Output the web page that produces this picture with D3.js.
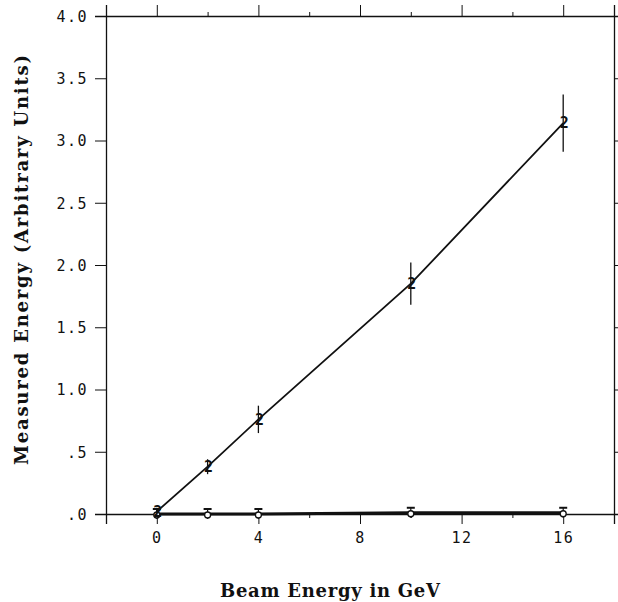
<!DOCTYPE html>
<html>
<head>
<meta charset="utf-8">
<script src="https://cdn.jsdelivr.net/npm/d3@7"></script>
<style>
  html, body { margin: 0; padding: 0; background: #fff; }
  svg { display: block; }
  .tick text { font-family: "DejaVu Sans Mono", monospace; font-size: 15px; letter-spacing: 1.5px; fill: #111; }
  .domain, .tick line { stroke: #111; }
</style>
</head>
<body>
<svg id="chart" width="618" height="602"></svg>
<script>
// Beam energy points (GeV)
const beamEnergy = [0, 2, 4, 10, 16];
// Upper curve: measured energy with error bars
const measuredHigh = [0.02, 0.38, 0.76, 1.85, 3.14];
const measuredHighErr = [0.03, 0.06, 0.11, 0.17, 0.23];
// Lower curve: stays close to zero
const measuredLow = [0.0, 0.0, 0.0, 0.01, 0.01];
const measuredLowErr = [0.04, 0.04, 0.04, 0.04, 0.04];

// Axis ticks
const xMajorTicks = [0, 4, 8, 12, 16];
const xMinorTicks = [-2, 2, 6, 10, 14, 18];
const yTicks = [0, 0.5, 1.0, 1.5, 2.0, 2.5, 3.0, 3.5, 4.0];
const yTickLabels = [".0", ".5", "1.0", "1.5", "2.0", "2.5", "3.0", "3.5", "4.0"];

const svg = d3.select("#chart");
const x = d3.scaleLinear().domain([-2, 18]).range([106, 614]);
const y = d3.scaleLinear().domain([0, 4]).range([514, 16]);

const ink = "#111";
const titleFont = "'DejaVu Serif', 'Liberation Serif', serif";

// Bottom axis: labelled major ticks, short minor ticks
svg.append("g").attr("transform", `translate(0,${y(0)})`)
  .call(d3.axisBottom(x).tickValues(xMajorTicks).tickSize(10).tickPadding(8).tickFormat(d3.format("d")))
  .call(g => g.select(".domain").attr("stroke-width", 1.3));
svg.append("g").attr("transform", `translate(0,${y(0)})`)
  .call(d3.axisBottom(x).tickValues(xMinorTicks).tickSize(4).tickFormat(""))
  .call(g => g.select(".domain").remove());

// Top axis: ticks only, pointing outward
svg.append("g").attr("transform", `translate(0,${y(4)})`)
  .call(d3.axisTop(x).tickValues(xMajorTicks).tickSize(11).tickFormat(""))
  .call(g => g.select(".domain").attr("stroke-width", 1.3));
svg.append("g").attr("transform", `translate(0,${y(4)})`)
  .call(d3.axisTop(x).tickValues(xMinorTicks).tickSize(4).tickFormat(""))
  .call(g => g.select(".domain").remove());

// Left axis with labels
svg.append("g").attr("transform", `translate(${x(-2)},0)`)
  .call(d3.axisLeft(y).tickValues(yTicks).tickSize(11).tickPadding(7)
    .tickFormat((d, i) => yTickLabels[i]))
  .call(g => g.select(".domain").attr("stroke-width", 1.3))
  .call(g => g.selectAll(".tick text").attr("dy", "0.36em"));

// Right axis: short outward ticks
svg.append("g").attr("transform", `translate(${x(18)},0)`)
  .call(d3.axisRight(y).tickValues(yTicks).tickSize(4).tickFormat(""))
  .call(g => g.select(".domain").attr("stroke-width", 1.3));

// Lower curve line (heavy, along zero)
const line = d3.line().x((d, i) => x(beamEnergy[i])).y(d => y(d));
svg.append("path").datum(measuredLow)
  .attr("d", line).attr("fill", "none").attr("stroke", ink).attr("stroke-width", 3);

// Lower curve error bars with top caps and open markers
const low = svg.append("g");
beamEnergy.forEach((e, i) => {
  const cx = x(e), v = measuredLow[i], er = measuredLowErr[i];
  low.append("line").attr("x1", cx).attr("x2", cx)
    .attr("y1", y(v + er)).attr("y2", y(v - er))
    .attr("stroke", ink).attr("stroke-width", 1.2);
  low.append("line").attr("x1", cx - 4).attr("x2", cx + 4)
    .attr("y1", y(v + er)).attr("y2", y(v + er))
    .attr("stroke", ink).attr("stroke-width", 2);
  low.append("circle").attr("cx", cx).attr("cy", y(v) + 1).attr("r", 3)
    .attr("fill", "#fff").attr("stroke", ink).attr("stroke-width", 1.3);
});

// Upper curve line
svg.append("path").datum(measuredHigh)
  .attr("d", line).attr("fill", "none").attr("stroke", ink).attr("stroke-width", 1.8);

// Upper curve error bars and "2" markers
const high = svg.append("g");
beamEnergy.forEach((e, i) => {
  const cx = x(e), v = measuredHigh[i], er = measuredHighErr[i];
  high.append("line").attr("x1", cx).attr("x2", cx)
    .attr("y1", y(v + er)).attr("y2", y(v - er))
    .attr("stroke", ink).attr("stroke-width", 1.3);
  high.append("text").attr("x", cx + 1).attr("y", y(v))
    .attr("text-anchor", "middle").attr("dy", "0.36em")
    .attr("font-family", "DejaVu Sans Mono, monospace")
    .attr("font-weight", "bold")
    .attr("font-size", 15).attr("fill", ink)
    .text("2");
});

// Axis titles (typewriter-like slab serif, spread to a fixed width)
svg.append("text")
  .attr("transform", `translate(28,260) rotate(-90)`)
  .attr("text-anchor", "middle")
  .attr("font-family", titleFont)
  .attr("font-weight", "bold").attr("font-size", 18).attr("fill", ink)
  .attr("textLength", 410).attr("lengthAdjust", "spacing")
  .text("Measured Energy (Arbitrary Units)");

svg.append("text")
  .attr("x", 330).attr("y", 597)
  .attr("text-anchor", "middle")
  .attr("font-family", titleFont)
  .attr("font-weight", "bold").attr("font-size", 18).attr("fill", ink)
  .attr("textLength", 220).attr("lengthAdjust", "spacing")
  .text("Beam Energy in GeV");
</script>
</body>
</html>
